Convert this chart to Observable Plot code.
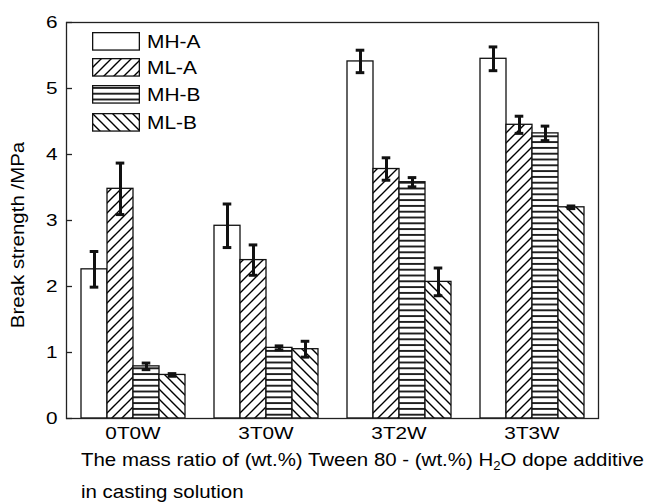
<!DOCTYPE html>
<html><head><meta charset="utf-8">
<script src="https://cdn.jsdelivr.net/npm/d3@7"></script>
<script src="https://cdn.jsdelivr.net/npm/@observablehq/plot@0.6"></script>
<style>
body{margin:0;background:#fff;}
#wrap{position:relative;width:646px;height:502px;font-family:"Liberation Sans",Arial,sans-serif;color:#000;overflow:hidden;}
#chart{position:absolute;left:0;top:0;}
.ytitle{position:absolute;left:18px;top:235px;font-size:18.6px;white-space:nowrap;transform:translate(-50%,-50%) rotate(-90deg) scaleX(1.1);}
.cap{position:absolute;left:81px;font-size:18.6px;line-height:32px;white-space:nowrap;transform-origin:0 50%;transform:scaleX(1.1);}
.cap sub{font-size:12px;vertical-align:-4px;line-height:0;}
.leg{position:absolute;left:92px;height:18px;}
.leg svg{position:absolute;left:0;top:0;}
.leg span{position:absolute;left:55px;top:50%;font-size:19px;line-height:19px;white-space:nowrap;transform-origin:0 50%;transform:translateY(-50%) scaleX(1.1);}
</style></head><body>
<svg width="0" height="0" style="position:absolute">
  <defs>
    <pattern id="pat-open" patternUnits="userSpaceOnUse" width="10" height="10">
      <rect width="10" height="10" fill="#fff"/>
    </pattern>
    <pattern id="pat-fwd" patternUnits="userSpaceOnUse" width="10" height="10">
      <rect width="10" height="10" fill="#fff"/>
      <path d="M-1,1 L1,-1 M0,10 L10,0 M9,11 L11,9" stroke="#000" stroke-width="1.4"/>
    </pattern>
    <pattern id="pat-horiz" patternUnits="userSpaceOnUse" width="10" height="5.8">
      <rect width="10" height="5.8" fill="#fff"/>
      <path d="M0,2.9 L10,2.9" stroke="#000" stroke-width="1.7"/>
    </pattern>
    <pattern id="pat-back" patternUnits="userSpaceOnUse" width="10" height="10">
      <rect width="10" height="10" fill="#fff"/>
      <path d="M-1,9 L1,11 M0,0 L10,10 M9,-1 L11,1" stroke="#000" stroke-width="1.4"/>
    </pattern>
  </defs>
</svg>
<div id="wrap">
  <div id="chart"></div>
  <div class="ytitle">Break strength /MPa</div>
  <div class="cap" style="top:444px">The mass ratio of (wt.%) Tween 80 - (wt.%) H<sub>2</sub>O dope additive</div>
  <div class="cap" style="top:476px">in casting solution</div>
</div>
<script>
// ---- data ----
const groups = ["0T0W", "3T0W", "3T2W", "3T3W"];
const series = ["MH-A", "ML-A", "MH-B", "ML-B"];
const patterns = ["url(#pat-open)", "url(#pat-fwd)", "url(#pat-horiz)", "url(#pat-back)"];
const mhA    = [2.26, 2.92, 5.41, 5.45];
const mhAErr = [0.27, 0.33, 0.17, 0.18];
const mlA    = [3.48, 2.40, 3.78, 4.45];
const mlAErr = [0.39, 0.23, 0.17, 0.13];
const mhB    = [0.79, 1.07, 3.58, 4.32];
const mhBErr = [0.05, 0.03, 0.07, 0.11];
const mlB    = [0.66, 1.05, 2.07, 3.20];
const mlBErr = [0.02, 0.12, 0.21, 0.02];
const yTicks = [0, 1, 2, 3, 4, 5, 6];

const values = [mhA, mlA, mhB, mlB];
const errors = [mhAErr, mlAErr, mhBErr, mlBErr];
const table = [];
groups.forEach((g, gi) => series.forEach((s, si) => {
  const v = values[si][gi], e = errors[si][gi];
  table.push({group: g, series: s, value: v, lo: v - e, hi: v + e});
}));

const chart = Plot.plot({
  width: 646, height: 445,
  marginLeft: 66, marginRight: 48, marginTop: 22, marginBottom: 27,
  style: {fontFamily: "'Liberation Sans', Arial, sans-serif", fontSize: "17px", color: "#000", background: "transparent", overflow: "visible"},
  fx: {domain: groups, paddingInner: 0, paddingOuter: 0, label: null},
  x: {domain: series, paddingInner: 0, paddingOuter: 0.49, axis: null},
  y: {domain: [0, 6], label: null},
  color: {domain: series, range: patterns},
  marks: [
    Plot.barY(table, {fx: "group", x: "series", y: "value", fill: "series", stroke: "#111", strokeWidth: 1.3}),
    Plot.ruleX(table, {fx: "group", x: "series", y1: "lo", y2: "hi", stroke: "#111", strokeWidth: 3}),
    Plot.tickY(table, {fx: "group", x: "series", y: "lo", stroke: "#111", strokeWidth: 3, insetLeft: 8.7, insetRight: 8.7}),
    Plot.tickY(table, {fx: "group", x: "series", y: "hi", stroke: "#111", strokeWidth: 3, insetLeft: 8.7, insetRight: 8.7}),
    Plot.axisY({ticks: yTicks, tickFormat: d3.format("d"), tickSize: -6, tickPadding: 15, label: null, stroke: "#222", strokeWidth: 1.3}),
    Plot.axisFx({anchor: "bottom", tickSize: 0, tickPadding: 8, label: null}),
    Plot.frame({facet: "super", stroke: "#222", strokeWidth: 1.3})
  ]
});
document.getElementById("chart").appendChild(chart);

// stretch SVG text horizontally to match the wide lettering of the reference
chart.querySelectorAll("text").forEach(t => {
  const w = t.getComputedTextLength();
  if (w > 0) { t.setAttribute("textLength", w * 1.22); t.setAttribute("lengthAdjust", "spacingAndGlyphs"); }
});

// legend
const wrap = document.getElementById("wrap");
const legTops = [31.5, 57.5, 85, 113];
series.forEach((s, i) => {
  const d = document.createElement("div");
  d.className = "leg";
  d.style.top = legTops[i] + "px";
  d.innerHTML = `<svg width="48" height="19"><rect x="0.65" y="0.65" width="46.7" height="17.4" fill="${patterns[i]}" stroke="#111" stroke-width="1.3"/></svg><span>${s}</span>`;
  wrap.appendChild(d);
});
</script>
</body></html>
